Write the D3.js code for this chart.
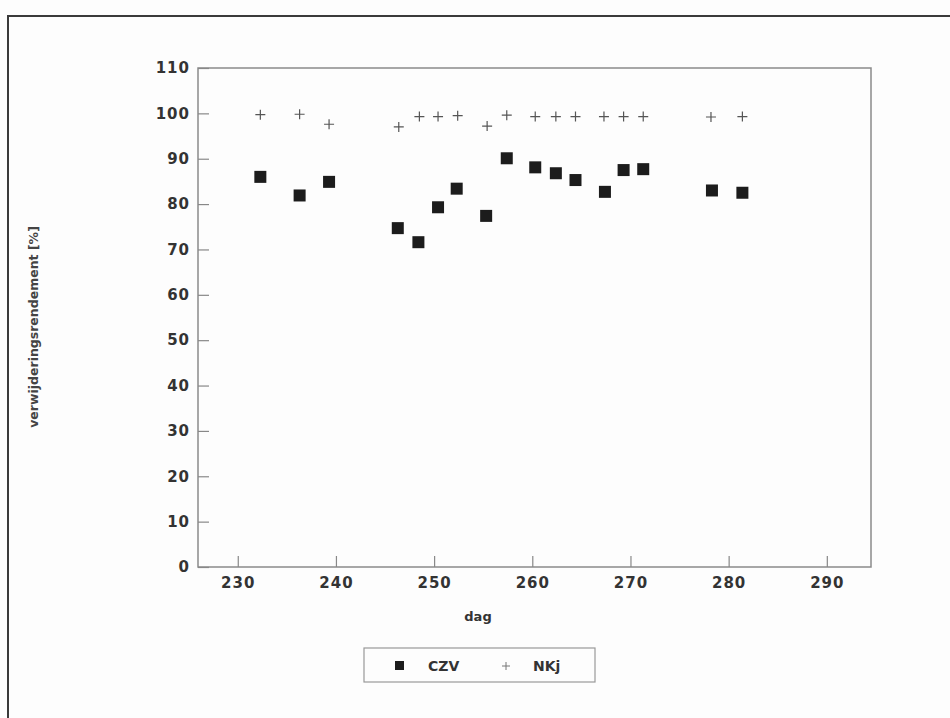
<!DOCTYPE html>
<html>
<head>
<meta charset="utf-8">
<script src="https://cdn.jsdelivr.net/npm/d3@7"></script>
<style>
  body { margin: 0; background: #fdfdfd; }
  svg { display: block; }
</style>
</head>
<body>
<div id="chart"></div>
<script>
// dag values
const czvDag = [232.3, 236.3, 239.3, 246.3, 248.4, 250.4, 252.3, 255.3, 257.4, 260.3, 262.4, 264.4, 267.4, 269.3, 271.3, 278.3, 281.4];
const czvVal = [86.0, 81.9, 84.9, 74.7, 71.6, 79.3, 83.4, 77.4, 90.1, 88.1, 86.8, 85.3, 82.7, 87.5, 87.7, 83.0, 82.5];

const nkjDag = [232.3, 236.3, 239.3, 246.4, 248.5, 250.4, 252.4, 255.4, 257.4, 260.3, 262.4, 264.4, 267.3, 269.3, 271.3, 278.2, 281.4];
const nkjVal = [99.7, 99.8, 97.6, 97.0, 99.3, 99.3, 99.5, 97.2, 99.6, 99.3, 99.3, 99.3, 99.3, 99.3, 99.3, 99.2, 99.3];

const xTicks = [230, 240, 250, 260, 270, 280, 290];
const yTicks = [0, 10, 20, 30, 40, 50, 60, 70, 80, 90, 100, 110];

const W = 950, H = 718;
const plot = { left: 198, top: 68, right: 871, bottom: 567 };

const svg = d3.select("#chart").append("svg")
    .attr("width", W)
    .attr("height", H);

// outer frame of the page, runs off the right and bottom
svg.append("rect")
    .attr("x", 8).attr("y", 16)
    .attr("width", 980).attr("height", 760)
    .attr("fill", "none")
    .attr("stroke", "#3a3a3a")
    .attr("stroke-width", 2);

const x = d3.scaleLinear().domain([225.95, 294.5]).range([plot.left, plot.right]);
const y = d3.scaleLinear().domain([0, 110]).range([plot.bottom, plot.top]);

const fontFam = "'DejaVu Sans', Arial, sans-serif";

// plot box
svg.append("rect")
    .attr("x", plot.left).attr("y", plot.top)
    .attr("width", plot.right - plot.left)
    .attr("height", plot.bottom - plot.top)
    .attr("fill", "none")
    .attr("stroke", "#8a8a8a")
    .attr("stroke-width", 1.5);

// x axis, ticks pointing inward
const xAxis = svg.append("g")
    .attr("transform", `translate(0,${plot.bottom})`)
    .call(d3.axisBottom(x).tickValues(xTicks).tickSizeInner(-11).tickSizeOuter(0).tickPadding(10));
xAxis.select(".domain").remove();
xAxis.selectAll("line").attr("stroke", "#888").attr("stroke-width", 1.2);
xAxis.selectAll("text")
    .attr("fill", "#333")
    .style("font-family", fontFam)
    .style("font-size", "15px")
    .style("font-weight", "bold")
    .style("letter-spacing", "1px");

// y axis
const yAxis = svg.append("g")
    .attr("transform", `translate(${plot.left},0)`)
    .call(d3.axisLeft(y).tickValues(yTicks).tickSizeInner(-11).tickSizeOuter(0).tickPadding(8));
yAxis.select(".domain").remove();
yAxis.selectAll("line").attr("stroke", "#888").attr("stroke-width", 1.2);
yAxis.selectAll("text")
    .attr("fill", "#333")
    .style("font-family", fontFam)
    .style("font-size", "15px")
    .style("font-weight", "bold")
    .style("letter-spacing", "1px");

// axis titles
svg.append("text")
    .attr("x", 478)
    .attr("y", 621)
    .attr("text-anchor", "middle")
    .attr("fill", "#333")
    .style("font-family", fontFam)
    .style("font-size", "13px")
    .style("font-weight", "bold")
    .text("dag");

svg.append("text")
    .attr("transform", `translate(38,327) rotate(-90)`)
    .attr("text-anchor", "middle")
    .attr("fill", "#444")
    .style("font-family", fontFam)
    .style("font-size", "12.5px")
    .style("font-weight", "bold")
    .text("verwijderingsrendement  [%]");

// CZV squares
const sq = 12;
svg.append("g").selectAll("rect")
    .data(czvDag.map((d, i) => [d, czvVal[i]]))
    .join("rect")
    .attr("x", d => x(d[0]) - sq / 2)
    .attr("y", d => y(d[1]) - sq / 2)
    .attr("width", sq).attr("height", sq)
    .attr("fill", "#1c1c1c");

// NKj plus signs
const half = 5;
svg.append("g").selectAll("path")
    .data(nkjDag.map((d, i) => [d, nkjVal[i]]))
    .join("path")
    .attr("d", d => `M${x(d[0]) - half},${y(d[1])}H${x(d[0]) + half}M${x(d[0])},${y(d[1]) - half}V${y(d[1]) + half}`)
    .attr("stroke", "#555")
    .attr("stroke-width", 1.2)
    .attr("fill", "none");

// legend
const lg = svg.append("g");
lg.append("rect")
    .attr("x", 364).attr("y", 648)
    .attr("width", 231).attr("height", 34)
    .attr("fill", "none")
    .attr("stroke", "#999")
    .attr("stroke-width", 1.2);
lg.append("rect")
    .attr("x", 395).attr("y", 661)
    .attr("width", 9).attr("height", 9)
    .attr("fill", "#1c1c1c");
lg.append("text")
    .attr("x", 428).attr("y", 671)
    .attr("fill", "#333")
    .style("font-family", fontFam)
    .style("font-size", "14px")
    .style("font-weight", "bold")
    .text("CZV");
lg.append("path")
    .attr("d", "M502,666H510M506,662V670")
    .attr("stroke", "#777")
    .attr("stroke-width", 1);
lg.append("text")
    .attr("x", 533).attr("y", 671)
    .attr("fill", "#333")
    .style("font-family", fontFam)
    .style("font-size", "14px")
    .style("font-weight", "bold")
    .text("NKj");
</script>
</body>
</html>
